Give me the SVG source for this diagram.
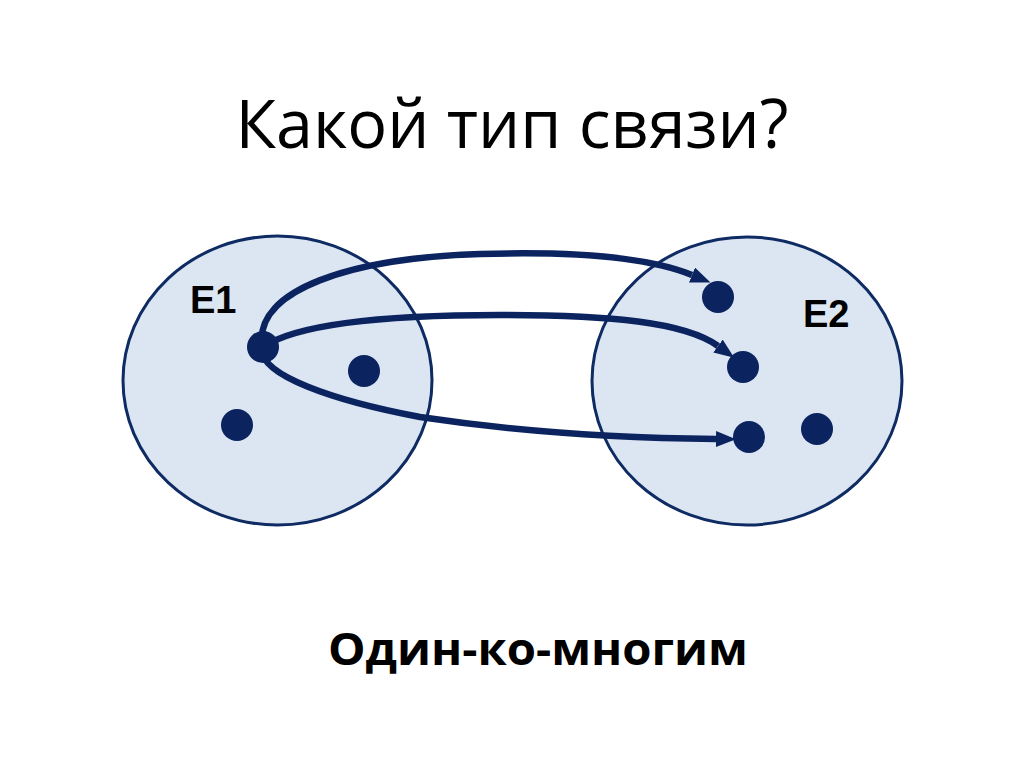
<svg xmlns="http://www.w3.org/2000/svg" width="1024" height="767" viewBox="0 0 1024 767">
<style>
.set{fill:#dce6f2;stroke:#0f2b63;stroke-width:3}
.dot{fill:#0b2460}
.arc{fill:none;stroke:#0b2460;stroke-width:6.5;marker-end:url(#ah)}
.lbl{font-family:"Liberation Sans",Arial,sans-serif;font-weight:bold;font-size:38px;fill:#000}
</style>
<defs>
<marker id="ah" markerUnits="userSpaceOnUse" viewBox="0 0 20 16" refX="0" refY="8" markerWidth="20" markerHeight="16" orient="auto">
<path d="M0,0 L20,8 L0,16 z" fill="#0b2460"/>
</marker>
</defs>
<rect width="1024" height="767" fill="#fff"/>
<text x="512" y="148" text-anchor="middle" font-family="'Open Sans','Noto Sans',sans-serif" font-size="68" textLength="553" lengthAdjust="spacingAndGlyphs" fill="#000">Какой тип связи?</text>
<g id="E1">
<ellipse class="set" cx="277.5" cy="380.5" rx="154.5" ry="144.5"/>
<text class="lbl" x="190" y="313">E1</text>
</g>
<g id="E2">
<ellipse class="set" cx="747" cy="381" rx="155" ry="144"/>
<text class="lbl" x="803" y="327">E2</text>
</g>
<g id="connectors">
<path class="arc" d="M262,345 C255,290 350,258 480,254 C580,251 650,258 692,275"/>
<path class="arc" d="M263,347 C300,322 400,315 500,315 C610,315 685,322 718,346"/>
<path class="arc" d="M262,350 C262,375 330,400 420,417 C520,432 620,438 716,439"/>
</g>
<g id="e1-dots">
<circle class="dot" cx="263" cy="347" r="16"/>
<circle class="dot" cx="364" cy="371" r="16"/>
<circle class="dot" cx="237" cy="425" r="16"/>
</g>
<g id="e2-dots">
<circle class="dot" cx="718" cy="297" r="16"/>
<circle class="dot" cx="743" cy="367" r="16"/>
<circle class="dot" cx="749" cy="437" r="16"/>
<circle class="dot" cx="817" cy="429" r="16"/>
</g>
<text x="538" y="665" text-anchor="middle" font-family="'Open Sans','Noto Sans',sans-serif" font-weight="bold" font-size="45" textLength="420" lengthAdjust="spacingAndGlyphs" fill="#000">Один-ко-многим</text>
</svg>
